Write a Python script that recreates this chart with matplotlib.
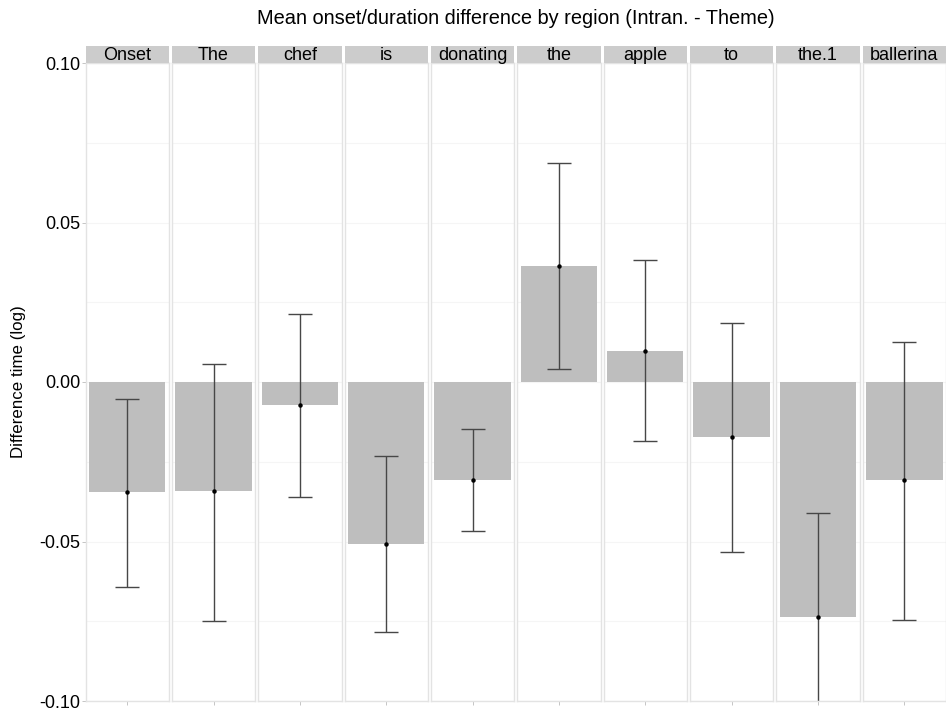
import matplotlib
matplotlib.use("Agg")
import matplotlib.pyplot as plt
import numpy as np

plt.rcParams['font.family'] = ['Liberation Sans', 'DejaVu Sans']

regions = ["Onset", "The", "chef", "is", "donating", "the", "apple", "to", "the.1", "ballerina"]
mean_diff = [-0.0345, -0.0342, -0.0072, -0.0508, -0.0307, 0.0364, 0.0097, -0.0172, -0.0737, -0.0307]
ci_upper = [-0.0053, 0.0056, 0.0213, -0.0232, -0.0147, 0.0687, 0.0382, 0.0185, -0.0411, 0.0125]
ci_lower = [-0.0643, -0.0749, -0.0361, -0.0784, -0.0467, 0.0041, -0.0185, -0.0533, -0.1063, -0.0746]
y_ticks = [-0.10, -0.05, 0.00, 0.05, 0.10]
y_tick_labels = ["-0.10", "-0.05", "0.00", "0.05", "0.10"]

W, H = 946, 715
fig = plt.figure(figsize=(W / 100, H / 100), dpi=100)

left_px, right_px = 85.5, 946
gap_px = 3.0
n = len(regions)
panel_w = (right_px - left_px - gap_px * (n - 1)) / n
top_px, bottom_px = 63, 701
strip_h = 17

border_col = "#E3E3E3"
for i, (name, m, hi, lo) in enumerate(zip(regions, mean_diff, ci_upper, ci_lower)):
    x0 = left_px + i * (panel_w + gap_px)
    ax = fig.add_axes([x0 / W, 1 - bottom_px / H, panel_w / W, (bottom_px - top_px) / H])
    ax.set_xlim(-0.6, 0.6)
    ax.set_ylim(-0.10, 0.10)
    for y in [-0.075, -0.025, 0.025, 0.075]:
        ax.axhline(y, color="#F5F5F5", lw=0.8, zorder=0)
    for y in y_ticks:
        ax.axhline(y, color="#F5F5F5", lw=0.8, zorder=0)
    ax.bar([0], [m], width=1.1, color="#BEBEBE", zorder=1)
    ax.errorbar([0], [m], yerr=[[m - lo], [hi - m]], fmt="none",
                ecolor="#474747", elinewidth=1.0, capsize=8.5, capthick=1.0, zorder=2)
    ax.plot([0], [m], "o", color="black", ms=2.2, zorder=3)
    for s in ax.spines.values():
        s.set_color(border_col)
        s.set_linewidth(1.0)
    ax.set_xticks([0])
    ax.set_xticklabels([])
    ax.tick_params(axis="x", length=3, color="#BBBBBB", width=0.6)
    if i == 0:
        ax.set_yticks(y_ticks)
        ax.set_yticklabels(y_tick_labels, fontsize=13)
        ax.tick_params(axis="y", length=3, color="#BBBBBB", width=0.6, pad=0.5)
    else:
        ax.set_yticks([])
    # facet strip
    sax = fig.add_axes([x0 / W, 1 - top_px / H, panel_w / W, strip_h / H])
    sax.set_facecolor("#CCCCCC")
    sax.set_xticks([])
    sax.set_yticks([])
    for s in sax.spines.values():
        s.set_visible(False)
    sax.text(0.5, 0.45, name, ha="center", va="center", fontsize=13,
             transform=sax.transAxes)

fig.text(18 / W, 1 - 382 / H, "Difference time (log)", rotation=90,
         ha="center", va="center", fontsize=12.2)
fig.text((left_px + right_px) / 2 / W, 1 - 18 / H,
         "Mean onset/duration difference by region (Intran. - Theme)",
         ha="center", va="center", fontsize=14.4)

fig.savefig("out.png", dpi=100)
